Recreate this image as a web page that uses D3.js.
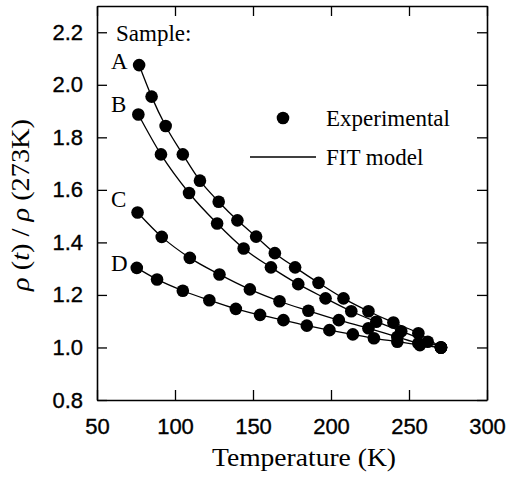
<!DOCTYPE html>
<html lang="en">

<head>
    <meta charset="utf-8">
    <script src="https://d3js.org/d3.v7.min.js"></script>
    <style>
        body { margin: 0; background: #fff; }
        .tick text { font-family: "Liberation Sans", Arial, sans-serif; font-size: 22px; fill: #000; stroke: #000; stroke-width: 0.35px; }
        .serif { font-family: "Liberation Serif", "Times New Roman", serif; fill: #000; }
    </style>
</head>

<body>
    <script>
        // temperature (K) and normalised resistivity for each sample
        const tempA = [77, 85, 94, 105, 116, 128, 140, 152, 164, 177, 192, 208, 224, 240, 256, 270.5];
        const rhoA = [2.075, 1.955, 1.843, 1.735, 1.635, 1.555, 1.484, 1.422, 1.359, 1.305, 1.246, 1.187, 1.138, 1.095, 1.054, 1.0];

        const tempB = [76.5, 91, 109, 127, 144, 161.5, 179, 196.5, 213, 229, 245, 262, 270.5];
        const rhoB = [1.887, 1.735, 1.588, 1.472, 1.377, 1.305, 1.241, 1.187, 1.138, 1.098, 1.062, 1.022, 1.0];

        const tempC = [76, 91.5, 109.5, 128.5, 148, 167, 185.5, 205, 224, 242.5, 256, 270.5];
        const rhoC = [1.514, 1.421, 1.341, 1.278, 1.221, 1.176, 1.140, 1.104, 1.073, 1.040, 1.016, 1.0];

        const tempD = [75.5, 88.5, 105, 122, 139, 154.5, 169.5, 184.5, 199, 214, 227.5, 242.5, 257, 270.5];
        const rhoD = [1.303, 1.259, 1.216, 1.180, 1.147, 1.124, 1.104, 1.083, 1.066, 1.050, 1.035, 1.022, 1.009, 1.0];

        const sampleNames = ["A", "B", "C", "D"];
        const xTicks = [50, 100, 150, 200, 250, 300];
        const yTicks = [0.8, 1.0, 1.2, 1.4, 1.6, 1.8, 2.0, 2.2];

        const series = [
            { name: "A", t: tempA, r: rhoA },
            { name: "B", t: tempB, r: rhoB },
            { name: "C", t: tempC, r: rhoC },
            { name: "D", t: tempD, r: rhoD }
        ];

        const W = 507, H = 478;
        const plot = { left: 97, right: 487, top: 6, bottom: 400 };

        const x = d3.scaleLinear().domain([50, 300]).range([plot.left, plot.right]);
        const y = d3.scaleLinear().domain([0.8, 2.3]).range([plot.bottom, plot.top]);

        const svg = d3.select("body").append("svg")
            .attr("width", W)
            .attr("height", H);

        // axes, ticks pointing inward on all four sides
        const styleAxis = g => {
            g.select(".domain").attr("stroke", "#000").attr("stroke-width", 1.6);
            g.selectAll(".tick line").attr("stroke", "#000").attr("stroke-width", 1.3);
        };

        svg.append("g")
            .attr("transform", "translate(0," + plot.bottom + ")")
            .call(d3.axisBottom(x).tickValues(xTicks).tickSize(-10).tickSizeOuter(0).tickPadding(18))
            .call(styleAxis);

        svg.append("g")
            .attr("transform", "translate(0," + plot.top + ")")
            .call(d3.axisTop(x).tickValues(xTicks).tickSize(-10).tickSizeOuter(0).tickFormat(""))
            .call(styleAxis);

        svg.append("g")
            .attr("transform", "translate(" + plot.left + ",0)")
            .call(d3.axisLeft(y).tickValues(yTicks).tickSize(-10).tickSizeOuter(0).tickPadding(14)
                .tickFormat(d3.format(".1f")))
            .call(styleAxis);

        svg.append("g")
            .attr("transform", "translate(" + plot.right + ",0)")
            .call(d3.axisRight(y).tickValues(yTicks).tickSize(-10).tickSizeOuter(0).tickFormat(""))
            .call(styleAxis);

        // fit curves and points
        const line = d3.line()
            .x(d => x(d[0]))
            .y(d => y(d[1]))
            .curve(d3.curveMonotoneX);

        series.forEach(s => {
            const pts = s.t.map((t, i) => [t, s.r[i]]);
            svg.append("path")
                .datum(pts)
                .attr("d", line)
                .attr("fill", "none")
                .attr("stroke", "#000")
                .attr("stroke-width", 1.3);
        });

        series.forEach(s => {
            const pts = s.t.map((t, i) => [t, s.r[i]]);
            svg.append("g").selectAll("circle")
                .data(pts)
                .enter()
                .append("circle")
                .attr("cx", d => x(d[0]))
                .attr("cy", d => y(d[1]))
                .attr("r", 6.3)
                .attr("fill", "#000");
        });

        // sample labels
        const labelPos = [[111, 69], [111, 112], [111, 207], [111, 271]];
        svg.selectAll(".sample")
            .data(sampleNames)
            .enter()
            .append("text")
            .attr("class", "serif sample")
            .attr("x", (d, i) => labelPos[i][0])
            .attr("y", (d, i) => labelPos[i][1])
            .style("font-size", "23px")
            .text(d => d);

        svg.append("text")
            .attr("class", "serif")
            .attr("x", 116)
            .attr("y", 41)
            .style("font-size", "23px")
            .text("Sample:");

        // legend
        svg.append("circle")
            .attr("cx", 283)
            .attr("cy", 118)
            .attr("r", 6.3)
            .attr("fill", "#000");
        svg.append("text")
            .attr("class", "serif")
            .attr("x", 326)
            .attr("y", 126)
            .style("font-size", "23px")
            .text("Experimental");

        svg.append("line")
            .attr("x1", 250).attr("x2", 316)
            .attr("y1", 157).attr("y2", 157)
            .attr("stroke", "#000")
            .attr("stroke-width", 1.3);
        svg.append("text")
            .attr("class", "serif")
            .attr("x", 326)
            .attr("y", 165)
            .style("font-size", "23px")
            .text("FIT model");

        // axis titles
        svg.append("text")
            .attr("class", "serif")
            .attr("x", 304)
            .attr("y", 466)
            .attr("text-anchor", "middle")
            .attr("textLength", 184)
            .attr("lengthAdjust", "spacingAndGlyphs")
            .style("font-size", "25px")
            .text("Temperature (K)");

        const yTitle = svg.append("text")
            .attr("class", "serif")
            .attr("transform", "translate(29,205) rotate(-90)")
            .attr("text-anchor", "middle")
            .attr("textLength", 172)
            .attr("lengthAdjust", "spacingAndGlyphs")
            .style("font-size", "25px");
        yTitle.append("tspan").style("font-style", "italic").text("ρ");
        yTitle.append("tspan").text(" (");
        yTitle.append("tspan").style("font-style", "italic").text("t");
        yTitle.append("tspan").text(") / ");
        yTitle.append("tspan").style("font-style", "italic").text("ρ");
        yTitle.append("tspan").text(" (273K)");
    </script>

</body>

</html>
